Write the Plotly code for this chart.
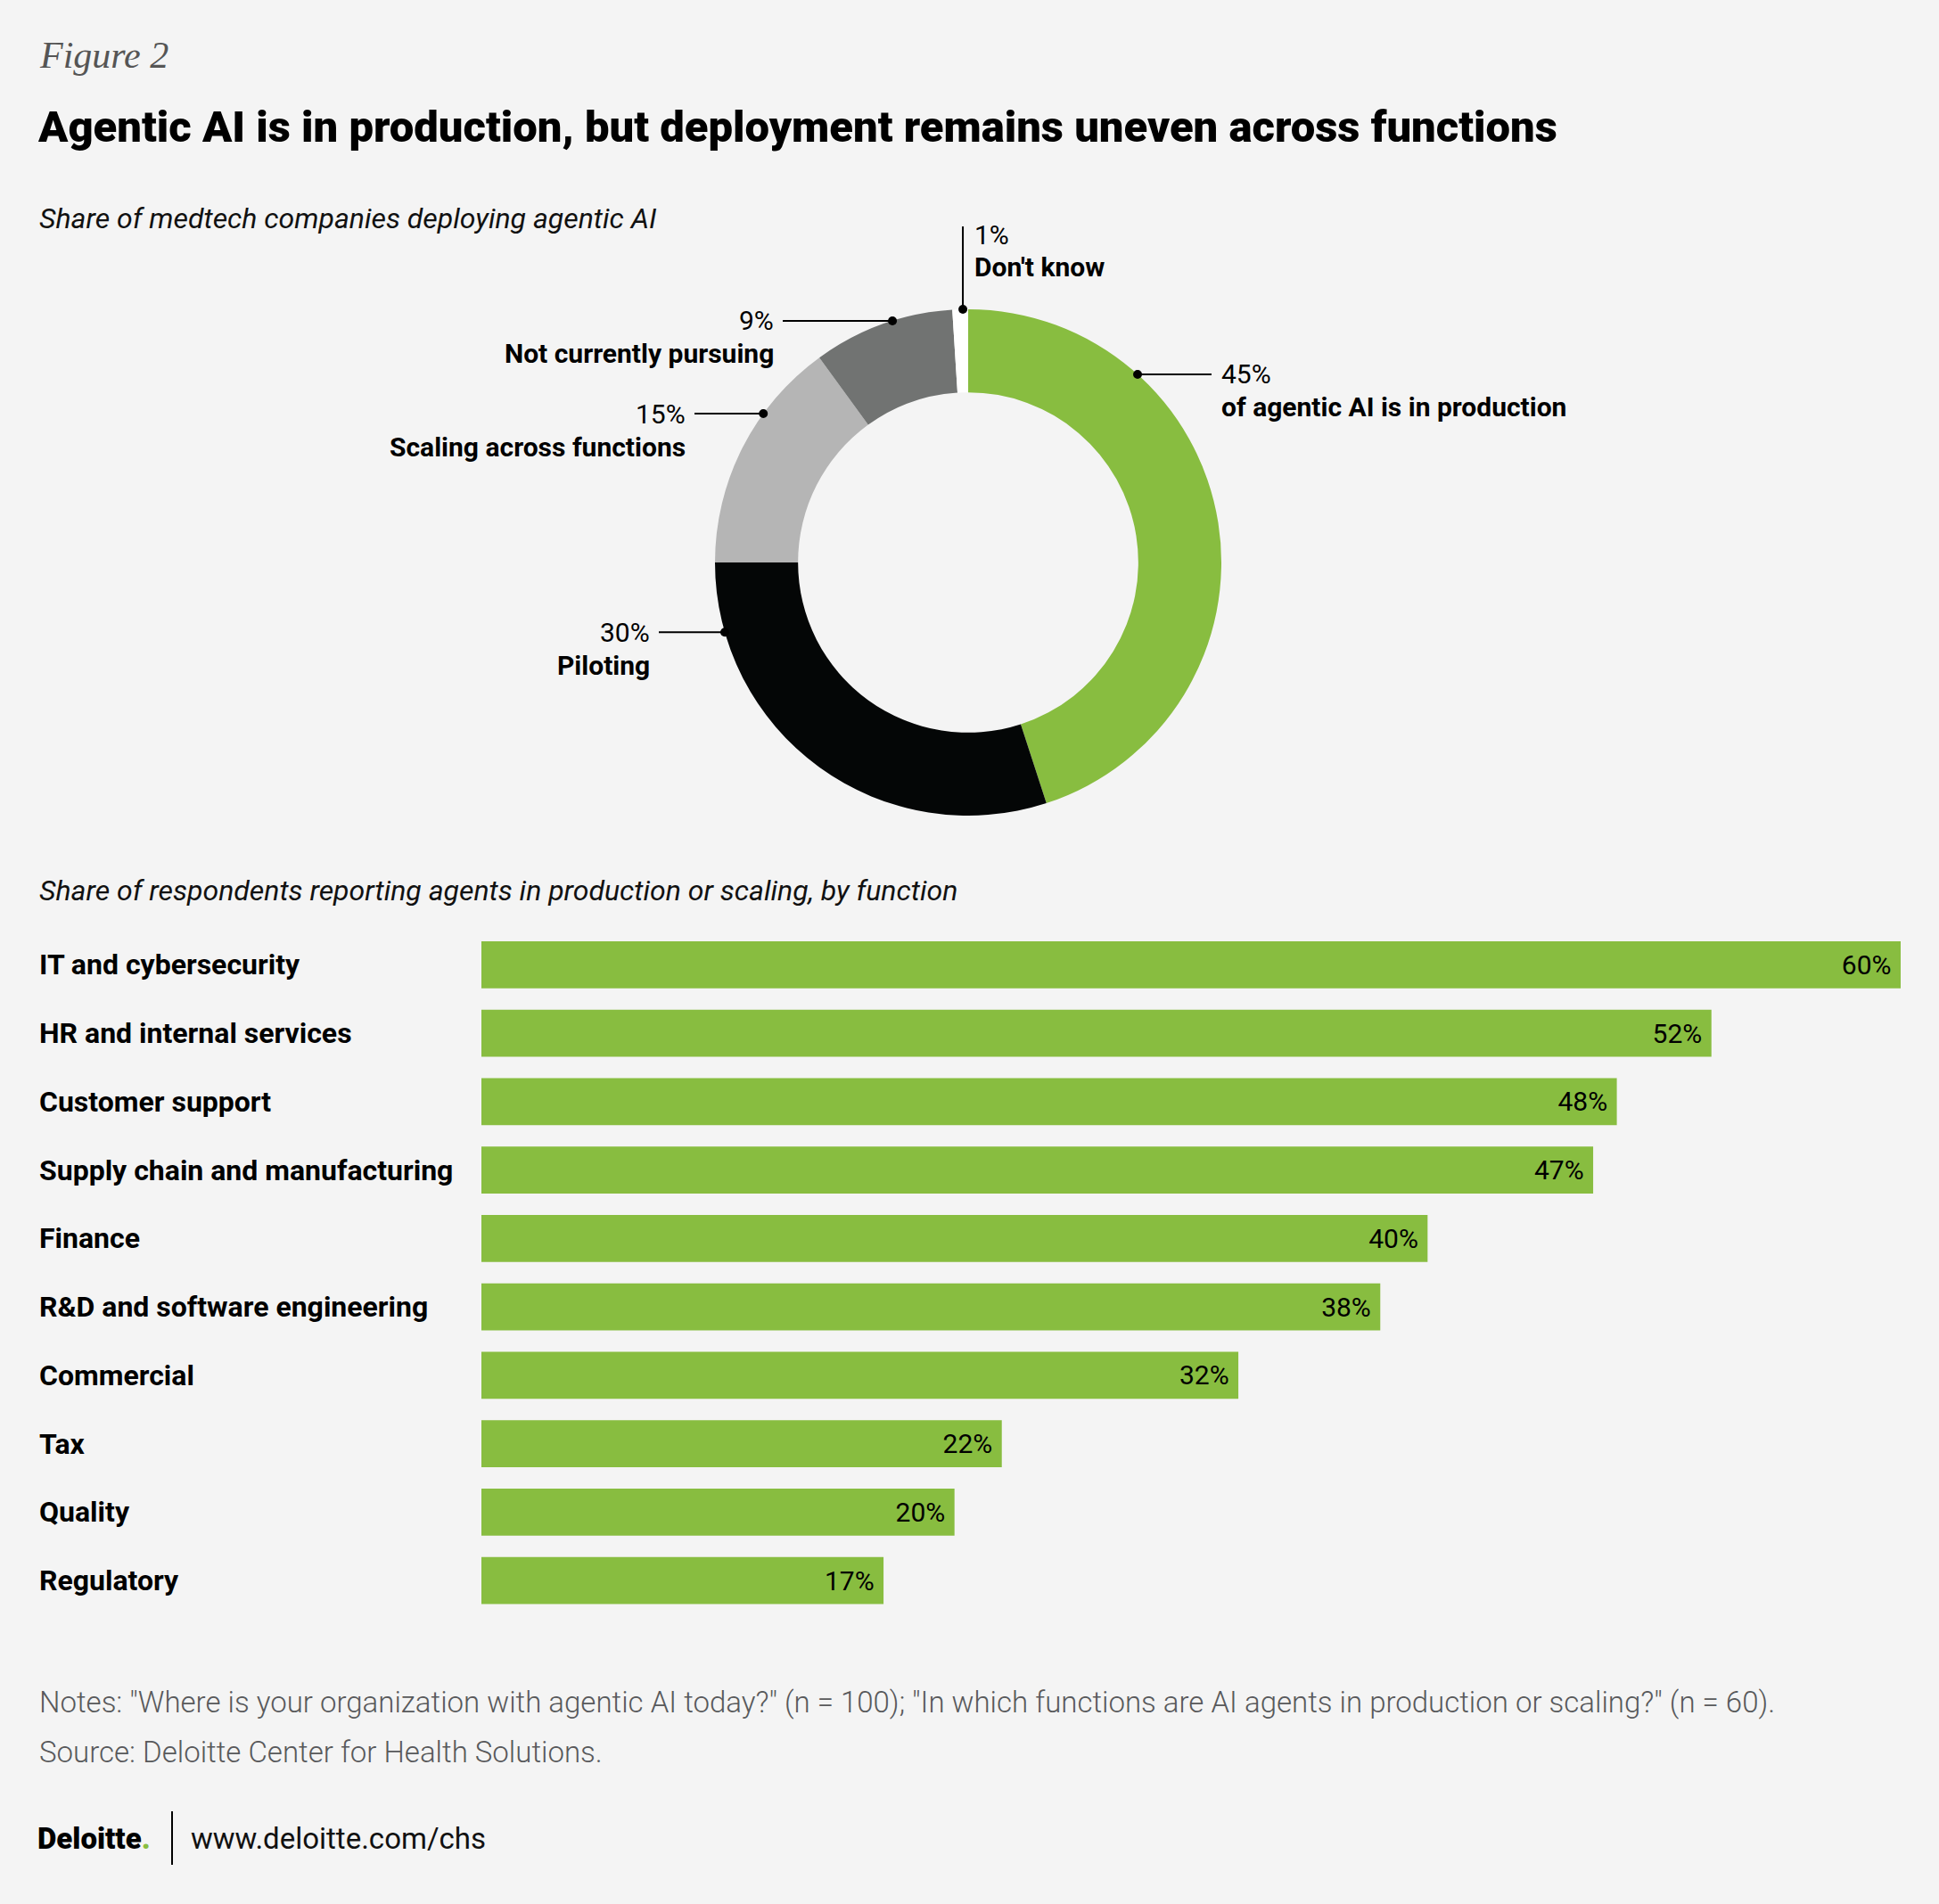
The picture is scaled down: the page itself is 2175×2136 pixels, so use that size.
import math
import plotly.graph_objects as go

# donut data
stages = ["of agentic AI is in production", "Piloting", "Scaling across functions",
          "Not currently pursuing", "Don't know"]
stage_pct = [45, 30, 15, 9, 1]
stage_colors = ["#88BD40", "#040606", "#B5B5B5", "#717372", "#FFFFFF"]

# bar data
functions = ["IT and cybersecurity", "HR and internal services", "Customer support",
             "Supply chain and manufacturing", "Finance", "R&D and software engineering",
             "Commercial", "Tax", "Quality", "Regulatory"]
function_pct = [60, 52, 48, 47, 40, 38, 32, 22, 20, 17]

W, H = 2175, 2136
BG = "#F4F4F4"
GREEN = "#88BD40"
FONT = "Roboto"


def px(x):
    return x / W


def py(y):
    return 1 - y / H


# donut geometry (pixels)
cx, cy, R = 1086, 631, 284

fig = go.Figure()

fig.add_trace(go.Pie(
    values=stage_pct, labels=stages, sort=False, direction="clockwise", rotation=0,
    hole=0.672, marker=dict(colors=stage_colors, line=dict(width=0)),
    textinfo="none", hoverinfo="label+percent", showlegend=False,
    domain=dict(x=[px(cx - R), px(cx + R)], y=[py(cy + R), py(cy - R)]),
))

fig.add_trace(go.Bar(
    x=function_pct, y=functions, orientation="h", marker=dict(color=GREEN, line=dict(width=0)),
    texttemplate="%{x}% ", textposition="inside", insidetextanchor="end",
    textfont=dict(family=FONT, size=30, color="#000000"), showlegend=False,
    xaxis="x", yaxis="y",
))

anns = []
shapes = []

anns.append(dict(text="Figure 2", x=px(42), y=py(62), xref="paper", yref="paper",
                 xanchor="left", yanchor="middle", showarrow=False,
                 font=dict(family="Liberation Serif", size=42, color="#555555", style="italic")))
anns.append(dict(text="Agentic AI is in production, but deployment remains uneven across functions",
                 x=px(40), y=py(142), xref="paper", yref="paper",
                 xanchor="left", yanchor="middle", showarrow=False,
                 font=dict(family=FONT, size=49, color="#000000", weight=900)))
anns.append(dict(text="Share of medtech companies deploying agentic AI", x=px(42), y=py(245),
                 xref="paper", yref="paper", xanchor="left", yanchor="middle", showarrow=False,
                 font=dict(family=FONT, size=32, color="#111111", style="italic")))
anns.append(dict(text="Share of respondents reporting agents in production or scaling, by function",
                 x=px(42), y=py(999), xref="paper", yref="paper", xanchor="left", yanchor="middle",
                 showarrow=False, font=dict(family=FONT, size=32, color="#111111", style="italic")))

# donut callouts: angle of dot (clockwise from top), end of leader line, text side
callouts = [
    (0, 42, 1359, "left"),
    (3, 342.6, 878, "right"),
    (2, 306, 779, "right"),
    (1, 254, 739, "right"),
]
for i, ang, xend, side in callouts:
    a = math.radians(ang)
    dx, dy = cx + R * math.sin(a), cy - R * math.cos(a)
    shapes.append(dict(type="line", xref="paper", yref="paper", x0=px(dx), y0=py(dy),
                       x1=px(xend), y1=py(dy), line=dict(color="#000000", width=2)))
    shapes.append(dict(type="circle", xref="paper", yref="paper", x0=px(dx - 5), x1=px(dx + 5),
                       y0=py(dy - 5), y1=py(dy + 5), fillcolor="#000000", line=dict(width=0)))
    tx = xend + 9 if side == "left" else xend - 8
    anns.append(dict(text=f"{stage_pct[i]}%", x=px(tx), y=py(dy), xref="paper", yref="paper",
                     xanchor=side, yanchor="middle", showarrow=False,
                     font=dict(family=FONT, size=30, color="#000000")))
    anns.append(dict(text=f"<b>{stages[i]}</b>", x=px(tx), y=py(dy + 37), xref="paper", yref="paper",
                     xanchor=side, yanchor="middle", showarrow=False,
                     font=dict(family=FONT, size=30, color="#000000")))

# "Don't know" callout goes straight up
a = math.radians(358.8)
dx, dy = cx + R * math.sin(a), cy - R * math.cos(a)
shapes.append(dict(type="line", xref="paper", yref="paper", x0=px(dx), y0=py(dy),
                   x1=px(dx), y1=py(254), line=dict(color="#000000", width=2)))
shapes.append(dict(type="circle", xref="paper", yref="paper", x0=px(dx - 5), x1=px(dx + 5),
                   y0=py(dy - 5), y1=py(dy + 5), fillcolor="#000000", line=dict(width=0)))
anns.append(dict(text=f"{stage_pct[4]}%", x=px(dx + 11), y=py(264), xref="paper", yref="paper",
                 xanchor="left", yanchor="middle", showarrow=False,
                 font=dict(family=FONT, size=30, color="#000000")))
anns.append(dict(text=f"<b>{stages[4]}</b>", x=px(dx + 11), y=py(299), xref="paper", yref="paper",
                 xanchor="left", yanchor="middle", showarrow=False,
                 font=dict(family=FONT, size=30, color="#000000")))

# bar category labels
for f in functions:
    anns.append(dict(text=f"<b>{f}</b>", x=px(42), y=f, xref="paper", yref="y",
                     xanchor="left", yanchor="middle", showarrow=False,
                     font=dict(family=FONT, size=32, color="#000000")))

# footer
anns.append(dict(text='Notes: "Where is your organization with agentic AI today?" (n = 100); '
                      '"In which functions are AI agents in production or scaling?" (n = 60).',
                 x=px(42), y=py(1909), xref="paper", yref="paper", xanchor="left", yanchor="middle",
                 showarrow=False, font=dict(family=FONT, size=33, color="#58595B", weight=300)))
anns.append(dict(text="Source: Deloitte Center for Health Solutions.",
                 x=px(42), y=py(1965), xref="paper", yref="paper", xanchor="left", yanchor="middle",
                 showarrow=False, font=dict(family=FONT, size=33, color="#58595B", weight=300)))
anns.append(dict(text="Deloitte<span style='color:" + GREEN + "'>.</span>",
                 x=px(40), y=py(2062), xref="paper", yref="paper", xanchor="left", yanchor="middle",
                 showarrow=False, font=dict(family=FONT, size=33, color="#000000", weight=900)))
shapes.append(dict(type="line", xref="paper", yref="paper", x0=px(193), x1=px(193),
                   y0=py(2032), y1=py(2092), line=dict(color="#000000", width=2)))
anns.append(dict(text="www.deloitte.com/chs", x=px(212), y=py(2062), xref="paper", yref="paper",
                 xanchor="left", yanchor="middle", showarrow=False,
                 font=dict(family=FONT, size=33, color="#111111")))

fig.update_layout(
    width=W, height=H, margin=dict(l=0, r=0, t=0, b=0),
    paper_bgcolor=BG, plot_bgcolor=BG,
    font=dict(family=FONT),
    bargap=0.31,
    xaxis=dict(domain=[px(540), px(2132)], range=[0, 60], visible=False, fixedrange=True),
    yaxis=dict(domain=[py(1811.5), py(1044)], categoryorder="array", categoryarray=functions,
               range=[9.5, -0.5], visible=False, fixedrange=True),
    annotations=anns, shapes=shapes,
    uniformtext=dict(minsize=30, mode="show"),
)

fig.write_html("out.html", config={"displayModeBar": False},
               post_script="document.body.style.margin='0';document.body.style.background='" + BG + "';")
